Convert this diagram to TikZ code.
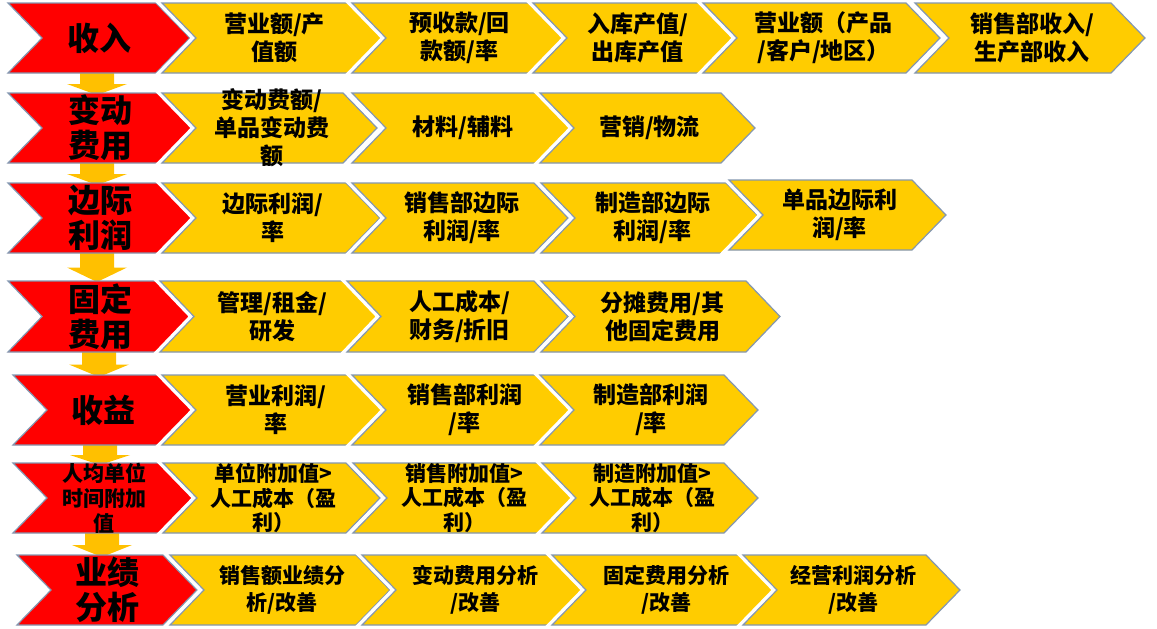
\documentclass[tikz,border=0pt]{standalone}
\usepackage{fontspec}
\setmainfont{Noto Sans CJK SC}
\definecolor{cyel}{HTML}{FFCC00}
\definecolor{cred}{HTML}{FF0000}
\definecolor{cedge}{HTML}{8497B0}
\definecolor{carrow}{HTML}{FFC000}
\newcommand\chev[6]{%
  \path[draw=white, line width=8pt, line join=miter] (#2,#4) -- ({#3-34},#4) -- (#3,{(#4+#5)/2}) -- ({#3-34},#5) -- (#2,#5) -- ({#2+34},{(#4+#5)/2}) -- cycle;
  \path[fill=#6, draw=cedge, line width=1.2pt, line join=miter] (#2,#4) -- ({#3-34},#4) -- (#3,{(#4+#5)/2}) -- ({#3-34},#5) -- (#2,#5) -- ({#2+34},{(#4+#5)/2}) -- cycle;
  \coordinate (#1) at ({(#2+#3)/2+2},{(#4+#5)/2});
}
\newcommand\redchev[5]{%
  \path[fill=cred, draw=cedge, line width=1.2pt, line join=miter] (#2,#4) -- ({#3-34},#4) -- (#3,{(#4+#5)/2}) -- ({#3-34},#5) -- (#2,#5) -- ({#2+34},{(#4+#5)/2}) -- cycle;
  \coordinate (#1) at ({(#2+#3)/2},{(#4+#5)/2});
}
\newcommand\downarr[4]{% name, cx, ybottom-of-upper, ytop-of-lower
  \path[fill=carrow] ({#2-17},{#3-4}) -- ({#2+17},{#3-4}) -- ({#2+17},{(#3+#4)/2}) -- ({#2+30},{(#3+#4)/2}) -- (#2,#4) -- ({#2-30},{(#3+#4)/2}) -- ({#2-17},{(#3+#4)/2}) -- cycle;
  \coordinate (#1) at (#2,#4);
}
\tikzset{
  ytxt/.style={font=\bfseries\fontsize{23}{28}\selectfont, align=center, inner sep=0pt, text=black},
  ysm/.style={font=\bfseries\fontsize{21}{24.5}\selectfont, align=center, inner sep=0pt, text=black},
  ysm7/.style={font=\bfseries\fontsize{21}{27}\selectfont, align=center, inner sep=0pt, text=black},
  rtxt/.style={font=\bfseries\fontsize{32}{35}\selectfont, align=center, inner sep=0pt, text=black},
  rsm/.style={font=\bfseries\fontsize{21}{25}\selectfont, align=center, inner sep=0pt, text=black},
}
\begin{document}
\begin{tikzpicture}[x=1pt,y=-1pt]
\useasboundingbox (0,0) rectangle (1157,629);
% down arrows (behind)
\downarr{a1}{97}{73}{95}
\downarr{a2}{97}{163}{185}
\downarr{a3}{97}{253}{282}
\downarr{a4}{99}{352}{377}
\downarr{a5}{100}{445}{465}
\downarr{a6}{102}{533}{557}
% row 1
\redchev{r1}{8}{190}{3}{73}
\chev{c11}{162}{383}{3}{73}{cyel}
\chev{c12}{352}{563}{3}{73}{cyel}
\chev{c13}{533}{738}{3}{73}{cyel}
\chev{c14}{703}{940}{3}{73}{cyel}
\chev{c15}{915}{1145}{3}{73}{cyel}
% row 2
\redchev{r2}{8}{192}{93}{163}
\chev{c21}{162}{377}{93}{163}{cyel}
\chev{c22}{352}{570}{93}{163}{cyel}
\chev{c23}{540}{755}{93}{163}{cyel}
% row 3
\redchev{r3}{8}{192}{183}{253}
\chev{c31}{162}{380}{183}{253}{cyel}
\chev{c32}{352}{568}{183}{253}{cyel}
\chev{c33}{541}{760}{183}{253}{cyel}
\chev{c34}{729}{946}{180}{250}{cyel}
% row 4
\redchev{r4}{8}{192}{281}{352}
\chev{c41}{160}{381}{281}{352}{cyel}
\chev{c42}{347}{568}{281}{352}{cyel}
\chev{c43}{541}{780}{281}{352}{cyel}
% row 5
\redchev{r5}{13}{193}{375}{445}
\chev{c51}{162}{385}{375}{445}{cyel}
\chev{c52}{352}{573}{375}{445}{cyel}
\chev{c53}{540}{758}{375}{445}{cyel}
% row 6
\redchev{r6}{13}{195}{463}{533}
\chev{c61}{163}{380}{463}{533}{cyel}
\chev{c62}{353}{572}{463}{533}{cyel}
\chev{c63}{542}{758}{463}{533}{cyel}
% row 7
\redchev{r7}{17}{197}{555}{625}
\chev{c71}{170}{390}{555}{625}{cyel}
\chev{c72}{362}{585}{555}{625}{cyel}
\chev{c73}{552}{777}{555}{625}{cyel}
\chev{c74}{743}{960}{555}{625}{cyel}
% texts
\node[rtxt] (t1) at (r1) {收入};
\node[ytxt] (t11) at (c11) {营业额/产\\值额};
\node[ytxt] (t12) at (c12) {预收款/回\\款额/率};
\node[ytxt] (t13) at (c13) {入库产值/\\出库产值};
\node[ytxt] (t14) at (c14) {营业额（产品\\/客户/地区）};
\node[ytxt] (t15) at (c15) {销售部收入/\\生产部收入};
\node[rtxt] (t2) at (r2) {变动\\费用};
\node[ytxt] (t21) at (c21) {变动费额/\\单品变动费\\额};
\node[ytxt] (t22) at (c22) {材料/辅料};
\node[ytxt] (t23) at (c23) {营销/物流};
\node[rtxt] (t3) at (r3) {边际\\利润};
\node[ytxt] (t31) at (c31) {边际利润/\\率};
\node[ytxt] (t32) at (c32) {销售部边际\\利润/率};
\node[ytxt] (t33) at (c33) {制造部边际\\利润/率};
\node[ytxt] (t34) at (c34) {单品边际利\\润/率};
\node[rtxt] (t4) at (r4) {固定\\费用};
\node[ytxt] (t41) at (c41) {管理/租金/\\研发};
\node[ytxt] (t42) at (c42) {人工成本/\\财务/折旧};
\node[ytxt] (t43) at (c43) {分摊费用/其\\他固定费用};
\node[rtxt] (t5) at (r5) {收益};
\node[ytxt] (t51) at (c51) {营业利润/\\率};
\node[ytxt] (t52) at (c52) {销售部利润\\/率};
\node[ytxt] (t53) at (c53) {制造部利润\\/率};
\node[rsm] (t6) at (r6) {人均单位\\时间附加\\值};
\node[ysm] (t61) at (c61) {单位附加值>\\人工成本（盈\\利）};
\node[ysm] (t62) at (c62) {销售附加值>\\人工成本（盈\\利）};
\node[ysm] (t63) at (c63) {制造附加值>\\人工成本（盈\\利）};
\node[rtxt] (t7) at (r7) {业绩\\分析};
\node[ysm7] (t71) at (c71) {销售额业绩分\\析/改善};
\node[ysm7] (t72) at (c72) {变动费用分析\\/改善};
\node[ysm7] (t73) at (c73) {固定费用分析\\/改善};
\node[ysm7] (t74) at (c74) {经营利润分析\\/改善};
\end{tikzpicture}
\end{document}
